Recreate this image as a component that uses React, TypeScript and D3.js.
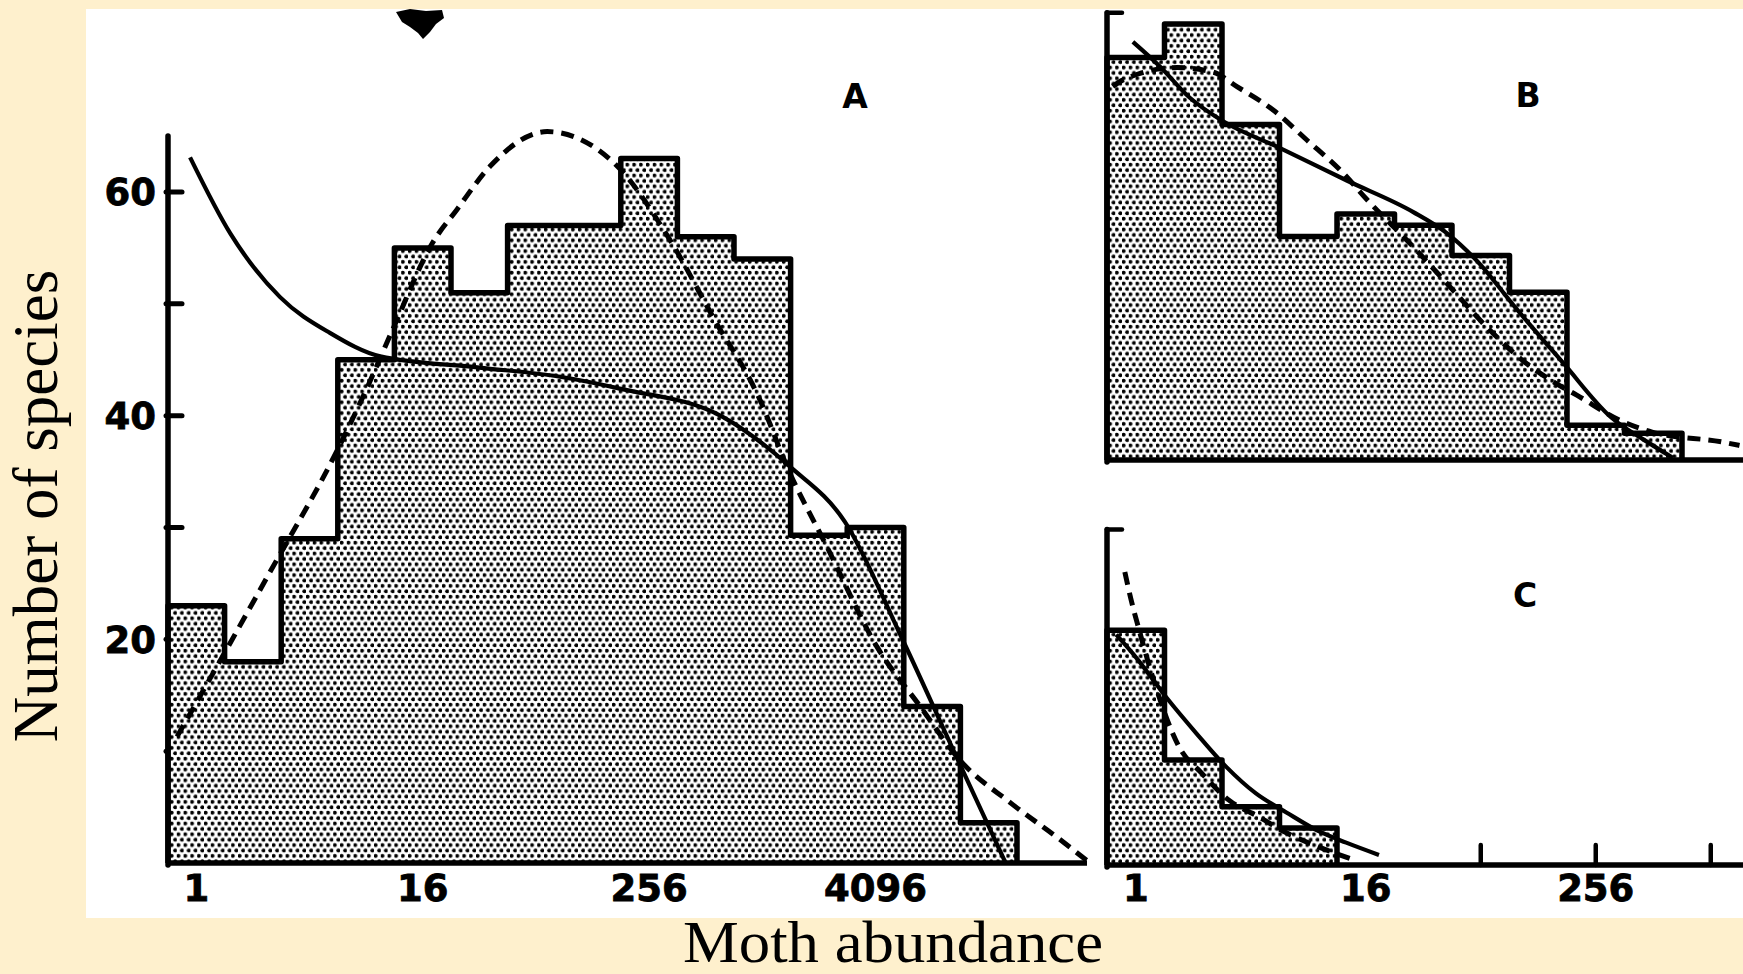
import React, { useEffect, useRef } from "react";
import * as d3 from "d3";

// species counts per octave class (class 0 = 1 moth, 4 = 16, 8 = 256 ...)
const countsA = [23, 18, 29, 45, 55, 51, 57, 57, 63, 56, 54, 29.3, 30, 14, 3.6];
const countsB = [36, 39, 30, 20, 22, 21, 18.3, 15, 3.1, 2.4];
const countsC = [21, 9.4, 5.2, 3.3];

// fitted curves: [octave, species]
const solidA: [number, number][] = [
  [-0.11, 63.1], [0.6, 56.3], [1.48, 50.6], [2.36, 47.4], [3.25, 45.3],
  [5.0, 44.3], [6.4, 43.5], [7.5, 42.4], [9.3, 39.9], [10.5, 35.4],
  [11.46, 30.5], [12.43, 20.5], [13.42, 9.6], [14.3, 0],
];
const dashedA: [number, number][] = [
  [-0.34, 11.3], [0.3, 17], [1.3, 26], [2.49, 36.9], [3.0, 42.3],
  [3.47, 47.7], [4.18, 55.5], [4.6, 58.4], [5.19, 62.3], [6.2, 65.4],
  [7.36, 62.7], [8.37, 55.7], [9.13, 48.8], [9.96, 41.4], [10.44, 35.4],
  [11.14, 28.3], [12.03, 19.3], [12.79, 14], [13.49, 9.2], [14.38, 5.4],
  [15.26, 2.1], [15.74, 0.2],
];
const solidB: [number, number][] = [
  [-0.05, 37.4], [0.42, 35.2], [0.94, 32.4], [1.52, 30.3], [2.51, 27.9],
  [3.67, 25.0], [4.82, 22.2], [5.41, 20.3], [5.99, 17.5], [6.56, 13.9],
  [7.43, 8.7], [8.27, 3.8], [8.84, 1.8], [9.34, 0.2],
];
const dashedB: [number, number][] = [
  [-0.4, 33.4], [-0.22, 34.0], [0.72, 35.1], [1.34, 34.7], [1.76, 33.4],
  [2.39, 31.3], [2.98, 28.6], [3.6, 25.7], [4.02, 23.3], [4.82, 19.1],
  [5.41, 15.8], [6.16, 11.6], [6.73, 8.9], [7.26, 7.0], [7.67, 5.8],
  [8.4, 3.6], [8.98, 2.5], [10.21, 1.6], [10.5, 1.3],
];
const solidC: [number, number][] = [
  [-0.34, 20.6], [0.0, 18.6], [0.53, 15.0], [1.05, 11.8], [1.57, 8.8],
  [2.09, 6.4], [2.62, 4.7], [3.19, 3.0], [3.66, 2.0], [4.23, 0.9],
];
const dashedC: [number, number][] = [
  [-0.19, 26.2], [-0.08, 23.7], [0.06, 21.0], [0.35, 15.9], [0.75, 10.6],
  [1.15, 8.2], [1.62, 5.8], [2.14, 4.3], [2.61, 2.9], [3.19, 1.6], [3.83, 0.4],
];

const xLabelsA = [1, 16, 256, 4096];
const xLabelsC = [1, 16, 256];
const xTicksC = [64, 256, 1024];
const yTicksA = [10, 20, 30, 40, 50, 60];
const yLabelsA = [20, 40, 60];

const INK = "#000";
const BEIGE = "#fef0cd";

export default function App() {
  const svgRef = useRef<SVGSVGElement | null>(null);

  useEffect(() => {
    if (!svgRef.current) return;
    const svg = d3.select(svgRef.current);
    svg.selectAll("*").remove();

    // dot screen used for the bars
    const defs = svg.append("defs");
    const pat = defs
      .append("pattern")
      .attr("id", "dots")
      .attr("patternUnits", "userSpaceOnUse")
      .attr("width", 6.8)
      .attr("height", 10.8);
    pat.append("rect").attr("width", 6.8).attr("height", 10.8).attr("fill", "#fff");
    pat.append("circle").attr("cx", 1.7).attr("cy", 2.7).attr("r", 1.95).attr("fill", INK);
    pat.append("circle").attr("cx", 5.1).attr("cy", 8.1).attr("r", 1.95).attr("fill", INK);

    svg.append("rect").attr("width", 1743).attr("height", 974).attr("fill", BEIGE);
    svg.append("rect").attr("x", 86).attr("y", 9).attr("width", 1657).attr("height", 909).attr("fill", "#fff");

    // scales (one bin = one octave)
    const xA = d3.scaleLinear().domain([-0.5, 14.5]).range([168, 1017]);
    const yA = d3.scaleLinear().domain([0, 60]).range([863, 192]);
    const xB = d3.scaleLinear().domain([-0.5, 9.5]).range([1107, 1682]);
    const yB = d3.scaleLinear().domain([0, 40]).range([460, 12.8]);
    const xC = xB.copy();
    const yC = d3.scaleLinear().domain([0, 30]).range([865, 529.6]);

    const labelFont = "'DejaVu Sans', Verdana, sans-serif";

    const panel = (
      counts: number[],
      solid: [number, number][],
      dashed: [number, number][],
      x: d3.ScaleLinear<number, number>,
      y: d3.ScaleLinear<number, number>,
      axisTop: number,
      baseEnd: number,
      serif: boolean
    ) => {
      const g = svg.append("g");
      const steps: [number, number][] = [[-0.5, 0]];
      counts.forEach((c, i) => {
        steps.push([i - 0.5, c]);
        steps.push([i + 0.5, c]);
      });
      steps.push([counts.length - 0.5, 0]);

      const area = d3
        .area<[number, number]>()
        .x((d) => x(d[0]))
        .y0(y(0))
        .y1((d) => y(d[1]));
      const line = d3
        .line<[number, number]>()
        .x((d) => x(d[0]))
        .y((d) => y(d[1]));

      g.append("path").attr("d", area(steps)).attr("fill", "url(#dots)");
      g.append("path")
        .attr("d", line(steps))
        .attr("fill", "none")
        .attr("stroke", INK)
        .attr("stroke-width", 5.5)
        .attr("stroke-linejoin", "round");

      // axes
      const x0 = x(-0.5);
      g.append("line")
        .attr("x1", x0).attr("x2", x0)
        .attr("y1", y(0) + 2).attr("y2", y(axisTop))
        .attr("stroke", INK).attr("stroke-width", 5.5).attr("stroke-linecap", "round");
      if (serif) {
        g.append("line")
          .attr("x1", x0).attr("x2", x0 + 15)
          .attr("y1", y(axisTop)).attr("y2", y(axisTop))
          .attr("stroke", INK).attr("stroke-width", 4.5).attr("stroke-linecap", "round");
      }
      g.append("line")
        .attr("x1", x0 - 2).attr("x2", baseEnd)
        .attr("y1", y(0)).attr("y2", y(0))
        .attr("stroke", INK).attr("stroke-width", 5.5);

      const curve = d3
        .line<[number, number]>()
        .x((d) => x(d[0]))
        .y((d) => y(d[1]))
        .curve(d3.curveMonotoneX);
      g.append("path")
        .attr("d", curve(solid))
        .attr("fill", "none")
        .attr("stroke", INK)
        .attr("stroke-width", 4.2);
      g.append("path")
        .attr("d", curve(dashed))
        .attr("fill", "none")
        .attr("stroke", INK)
        .attr("stroke-width", 5)
        .attr("stroke-dasharray", "13 8");
      return g;
    };

    // y ticks of A go under the bars
    const tickG = svg.append("g");
    yTicksA.forEach((t) => {
      tickG.append("line")
        .attr("x1", 166).attr("x2", 182)
        .attr("y1", yA(t)).attr("y2", yA(t))
        .attr("stroke", INK).attr("stroke-width", 5).attr("stroke-linecap", "round");
    });

    panel(countsA, solidA, dashedA, xA, yA, 65, 1087, false);
    panel(countsB, solidB, dashedB, xB, yB, 40, 1743, true);
    const gC = panel(countsC, solidC, dashedC, xC, yC, 30, 1743, true);

    xTicksC.forEach((t) => {
      gC.append("line")
        .attr("x1", xC(Math.log2(t))).attr("x2", xC(Math.log2(t)))
        .attr("y1", yC(0)).attr("y2", yC(0) - 20)
        .attr("stroke", INK).attr("stroke-width", 4.5).attr("stroke-linecap", "round");
    });

    // tick labels
    const label = (x: number, y: number, anchor: string, t: string, dy = "0") =>
      svg.append("text")
        .attr("x", x).attr("y", y)
        .attr("dy", dy)
        .attr("text-anchor", anchor)
        .attr("font-family", labelFont).attr("font-weight", "bold").attr("font-size", 37)
        .attr("fill", INK)
        .attr("stroke", INK).attr("stroke-width", 0.8)
        .text(t);

    yLabelsA.forEach((t) => label(156, yA(t), "end", String(t), "0.36em"));
    xLabelsA.forEach((t) => label(xA(Math.log2(t)), 901, "middle", String(t)));
    xLabelsC.forEach((t) => label(xC(Math.log2(t)), 901, "middle", String(t)));

    // panel letters
    [["A", 855, 108], ["B", 1528, 107], ["C", 1525, 607]].forEach(([s, px, py]) => {
      svg.append("text")
        .attr("x", px as number).attr("y", py as number)
        .attr("text-anchor", "middle")
        .attr("font-family", labelFont).attr("font-weight", "bold").attr("font-size", 33)
        .attr("fill", INK)
        .text(s as string);
    });

    // scanner speck above panel A
    svg.append("path")
      .attr("d", "M396,12 L410,9 L426,11 L442,10 L444,18 L436,24 L430,32 L423,39 L418,33 L410,27 L402,22 Z")
      .attr("fill", INK);

    // axis titles
    svg.append("text")
      .attr("transform", "translate(57,506) rotate(-90)")
      .attr("text-anchor", "middle")
      .attr("font-family", "'Liberation Serif', 'Times New Roman', serif")
      .attr("font-size", 63)
      .attr("fill", INK)
      .text("Number of species");
    svg.append("text")
      .attr("x", 893).attr("y", 962)
      .attr("text-anchor", "middle")
      .attr("font-family", "'Liberation Serif', 'Times New Roman', serif")
      .attr("font-size", 59)
      .attr("textLength", 420)
      .attr("lengthAdjust", "spacingAndGlyphs")
      .attr("fill", INK)
      .text("Moth abundance");
  }, []);

  return (
    <svg
      ref={svgRef}
      width={1743}
      height={974}
      style={{ position: "absolute", left: 0, top: 0, display: "block" }}
    />
  );
}
